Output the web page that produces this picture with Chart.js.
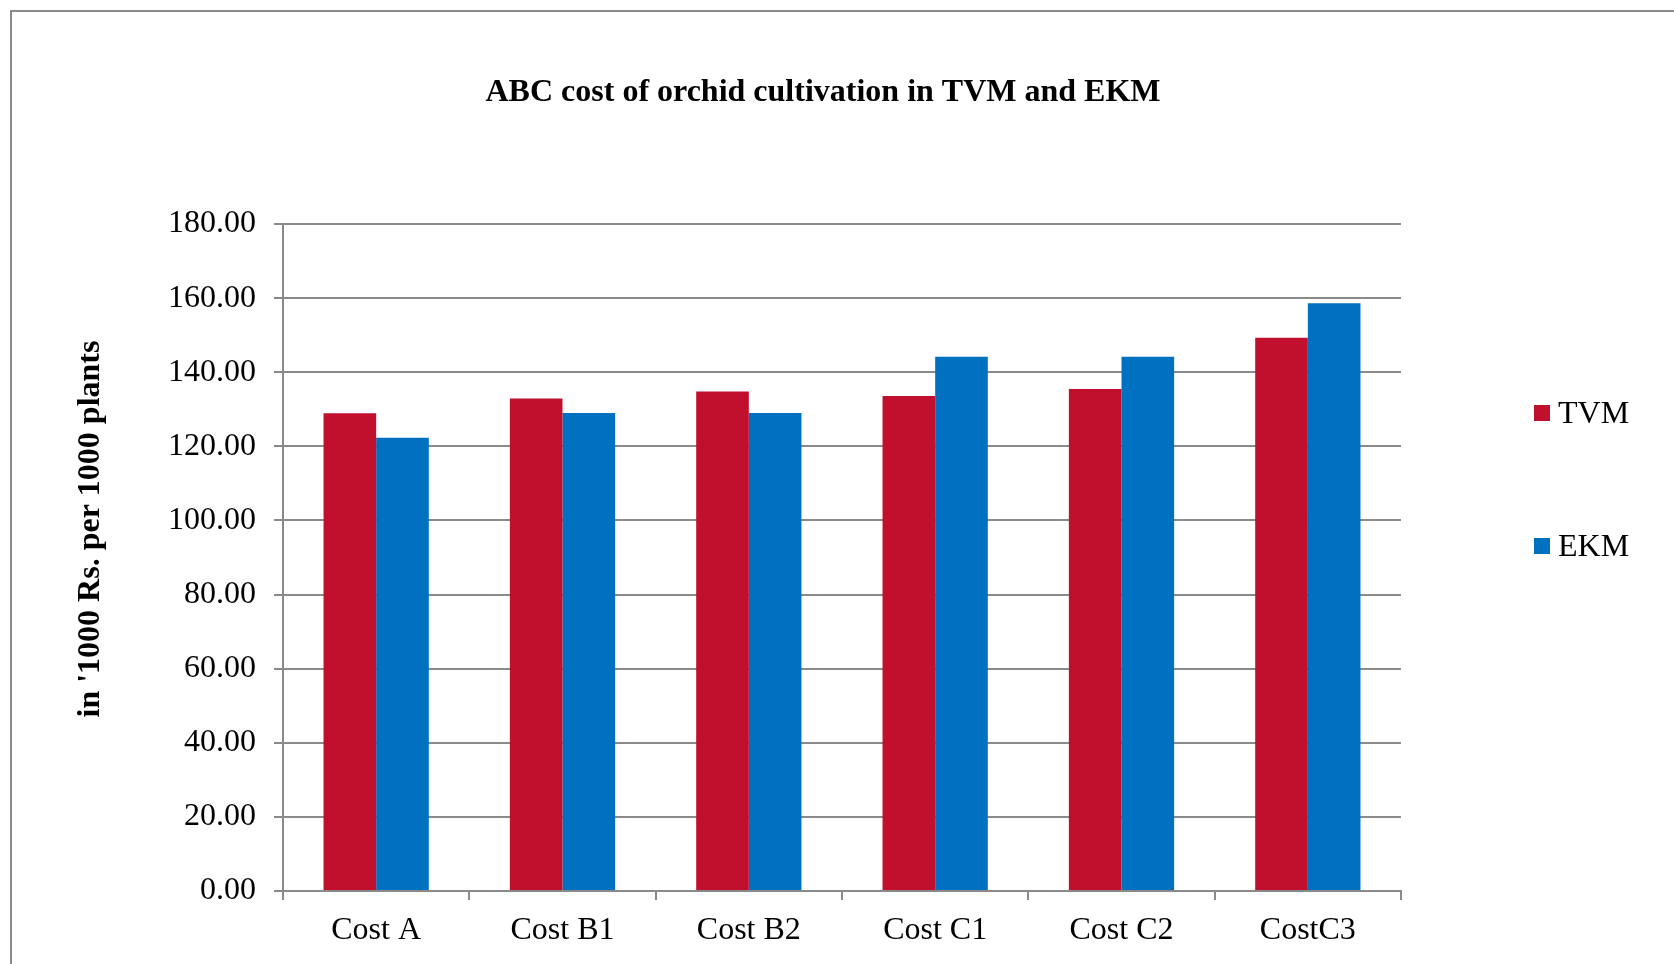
<!DOCTYPE html>
<html>
<head>
<meta charset="utf-8">
<title>ABC cost of orchid cultivation in TVM and EKM</title>
<script src="https://cdn.jsdelivr.net/npm/chart.js@4/dist/chart.umd.min.js"></script>
<style>
  html, body { margin: 0; padding: 0; background: #ffffff; }
  #wrap { width: 1674px; height: 964px; position: relative; }
</style>
</head>
<body>
<div id="wrap"><canvas id="chart" width="1674" height="964"></canvas></div>
<script>
// Cost categories (Rs. '000 per 1000 plants)
const categories = ['Cost A', 'Cost B1', 'Cost B2', 'Cost C1', 'Cost C2', 'CostC3'];
const seriesNames = ['TVM', 'EKM'];
const tvmValues = [128.9, 132.9, 134.8, 133.6, 135.5, 149.3];
const ekmValues = [122.3, 129.0, 129.0, 144.2, 144.2, 158.6];
const yTicks = [0, 20, 40, 60, 80, 100, 120, 140, 160, 180];

const chartTitle = 'ABC cost of orchid cultivation in TVM and EKM';
const yTitle = "in '1000 Rs. per 1000 plants";

const SERIF = "'Liberation Serif', 'Times New Roman', serif";
const AXIS_GREY = '#8a8a8a';

// Outer frame, chart title, value-axis title and the right-hand legend
const decorations = {
  id: 'decorations',
  beforeDraw(chart) {
    const ctx = chart.ctx;
    ctx.save();
    ctx.fillStyle = '#ffffff';
    ctx.fillRect(0, 0, chart.width, chart.height);
    ctx.strokeStyle = AXIS_GREY;
    ctx.lineWidth = 2;
    ctx.strokeRect(11, 11, chart.width + 20, chart.height + 20);
    ctx.restore();
  },
  afterDraw(chart) {
    const ctx = chart.ctx;
    ctx.save();
    ctx.fillStyle = '#000000';
    ctx.font = 'bold 32px ' + SERIF;
    ctx.textAlign = 'center';
    ctx.textBaseline = 'middle';
    ctx.fillText(chartTitle, 823, 93);

    ctx.save();
    ctx.translate(91, 529);
    ctx.rotate(-Math.PI / 2);
    ctx.fillText(yTitle, 0, 0);
    ctx.restore();

    ctx.font = '32px ' + SERIF;
    ctx.textAlign = 'left';
    const rows = [413, 546];
    chart.data.datasets.forEach((ds, i) => {
      const y = rows[i];
      ctx.fillStyle = ds.backgroundColor;
      ctx.fillRect(1534, y - 8, 16, 16);
      ctx.fillStyle = '#000000';
      ctx.fillText(ds.label, 1558, y + 2);
    });
    ctx.restore();
  }
};

new Chart(document.getElementById('chart'), {
  type: 'bar',
  data: {
    labels: categories,
    datasets: [
      { label: seriesNames[0], data: tvmValues, backgroundColor: '#C0102E' },
      { label: seriesNames[1], data: ekmValues, backgroundColor: '#0070C0' }
    ]
  },
  options: {
    responsive: false,
    animation: false,
    devicePixelRatio: 1,
    layout: { padding: { top: 224, right: 273, bottom: 0, left: 0 } },
    categoryPercentage: 0.565,
    barPercentage: 1.0,
    plugins: {
      legend: { display: false },
      title: { display: false },
      tooltip: { enabled: false }
    },
    scales: {
      x: {
        grid: {
          offset: true,
          drawOnChartArea: false,
          drawTicks: true,
          tickLength: 9,
          color: AXIS_GREY,
          lineWidth: 2
        },
        border: { display: true, color: AXIS_GREY, width: 2 },
        ticks: {
          color: '#000000',
          font: { family: SERIF, size: 32 },
          padding: 11,
          maxRotation: 0,
          autoSkip: false
        },
        afterFit(scale) { scale.height = 73; }
      },
      y: {
        min: 0,
        max: 180,
        afterBuildTicks(scale) { scale.ticks = yTicks.map(v => ({ value: v })); },
        grid: {
          drawTicks: true,
          tickLength: 9,
          color: AXIS_GREY,
          lineWidth: 2
        },
        border: { display: true, color: AXIS_GREY, width: 2 },
        ticks: {
          color: '#000000',
          font: { family: SERIF, size: 32 },
          padding: 18,
          callback: v => Number(v).toFixed(2)
        },
        title: { display: false },
        afterFit(scale) { scale.width = 283; }
      }
    }
  },
  plugins: [decorations]
});
</script>
</body>
</html>
